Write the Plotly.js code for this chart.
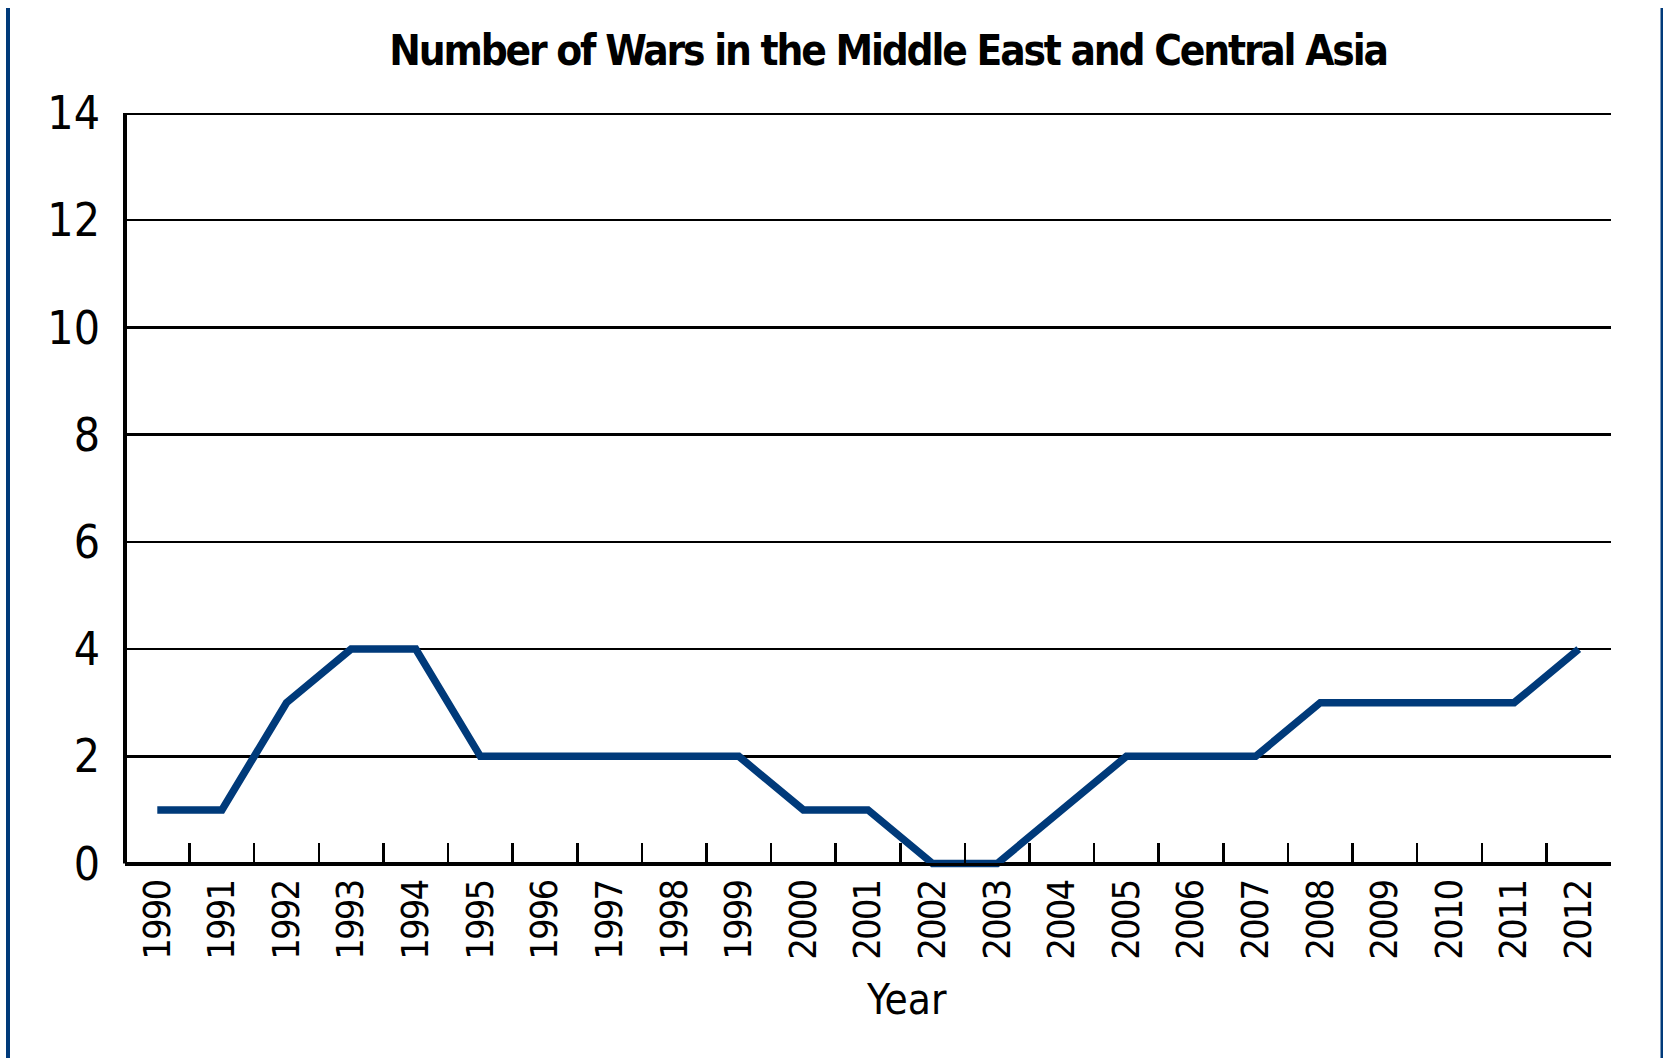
<!DOCTYPE html>
<html>
<head>
<meta charset="utf-8">
<script src="https://cdn.plot.ly/plotly-3.0.1.min.js"></script>
<style>
html,body{margin:0;padding:0;background:#fff;}
#chart{width:1663px;height:1058px;}
text{font-stretch:condensed !important;}
.gtitle{letter-spacing:-2.2px;}
.xtick text{letter-spacing:-2px;}
</style>
</head>
<body>
<div id="chart"></div>
<script>
const years = ["1990","1991","1992","1993","1994","1995","1996","1997","1998","1999","2000","2001","2002","2003","2004","2005","2006","2007","2008","2009","2010","2011","2012"];
const wars = [1,1,3,4,4,2,2,2,2,2,1,1,0,0,1,2,2,2,3,3,3,3,4];
const yTicks = [0,2,4,6,8,10,12,14];
const chartTitle = "Number of Wars in the Middle East and Central Asia";
const xLabel = "Year";

const FONT = '"Liberation Sans Narrow", "Arial Narrow", "DejaVu Sans", sans-serif';
const NAVY = '#003a7a';

const W = 1663, H = 1058;
const L = 125, R = 52, T = 113;
const yMin = -0.12, yMax = 14;
const pxPerUnit = (864 - T) / 14;
const plotBottom = 864 + (-yMin) * pxPerUnit;
const B = H - plotBottom;
const plotW = W - L - R, plotH = plotBottom - T;
const px2x = p => (p - L) / plotW;
const py2y = p => (plotBottom - p) / plotH;

const trace = {
  x: years,
  y: wars,
  type: 'scatter',
  mode: 'lines',
  line: {color: NAVY, width: 7.5},
  hoverinfo: 'x+y'
};

const layout = {
  width: W, height: H,
  margin: {l: L, r: R, t: T, b: B, pad: 0},
  paper_bgcolor: '#fff',
  plot_bgcolor: '#fff',
  showlegend: false,
  font: {family: FONT, color: '#000'},
  title: {
    text: chartTitle,
    font: {family: FONT, size: 42, weight: 'bold', color: '#000'},
    x: 888 / W, xanchor: 'center', xref: 'container',
    y: 1 - 50 / H, yanchor: 'middle', yref: 'container'
  },
  xaxis: {
    type: 'category',
    range: [-0.5, 22.5],
    tickson: 'boundaries',
    ticks: 'inside',
    ticklen: 20,
    tickwidth: 2.5,
    tickcolor: '#000',
    tickangle: -90,
    tickfont: {family: FONT, size: 38, color: '#000'},
    ticklabelstandoff: 0,
    showline: true,
    linecolor: '#000',
    linewidth: 3,
    showgrid: false,
    zeroline: false,
    anchor: 'free',
    position: (-yMin) / (yMax - yMin),
    fixedrange: true
  },
  yaxis: {
    range: [yMin, yMax],
    tickvals: yTicks,
    ticktext: yTicks.map(String),
    ticks: '',
    tickfont: {family: FONT, size: 46, color: '#000'},
    ticklabelstandoff: 24,
    showline: false,
    showgrid: true,
    gridcolor: '#000',
    gridwidth: 2.5,
    zeroline: false,
    fixedrange: true
  },
  annotations: [{
    text: xLabel,
    xref: 'paper', yref: 'paper',
    x: px2x(906), y: py2y(1000),
    xanchor: 'center', yanchor: 'middle',
    showarrow: false,
    font: {family: FONT, size: 42, color: '#000'}
  }],
  shapes: [
    {type: 'line', xref: 'paper', yref: 'y', x0: 0, x1: 0, y0: 0, y1: 14, line: {color: '#000', width: 4}, layer: 'below'},
    {type: 'line', xref: 'paper', yref: 'y', x0: 0, x1: 1, y0: 14, y1: 14, line: {color: '#000', width: 4}, layer: 'below'},
    {type: 'line', xref: 'paper', yref: 'paper', x0: px2x(8), x1: px2x(8), y0: py2y(8), y1: py2y(1060), line: {color: NAVY, width: 4}},
    {type: 'line', xref: 'paper', yref: 'paper', x0: px2x(1662), x1: px2x(1662), y0: py2y(8), y1: py2y(1060), line: {color: NAVY, width: 3}}
  ]
};

Plotly.newPlot('chart', [trace], layout, {displayModeBar: false, staticPlot: true});
</script>
</body>
</html>
